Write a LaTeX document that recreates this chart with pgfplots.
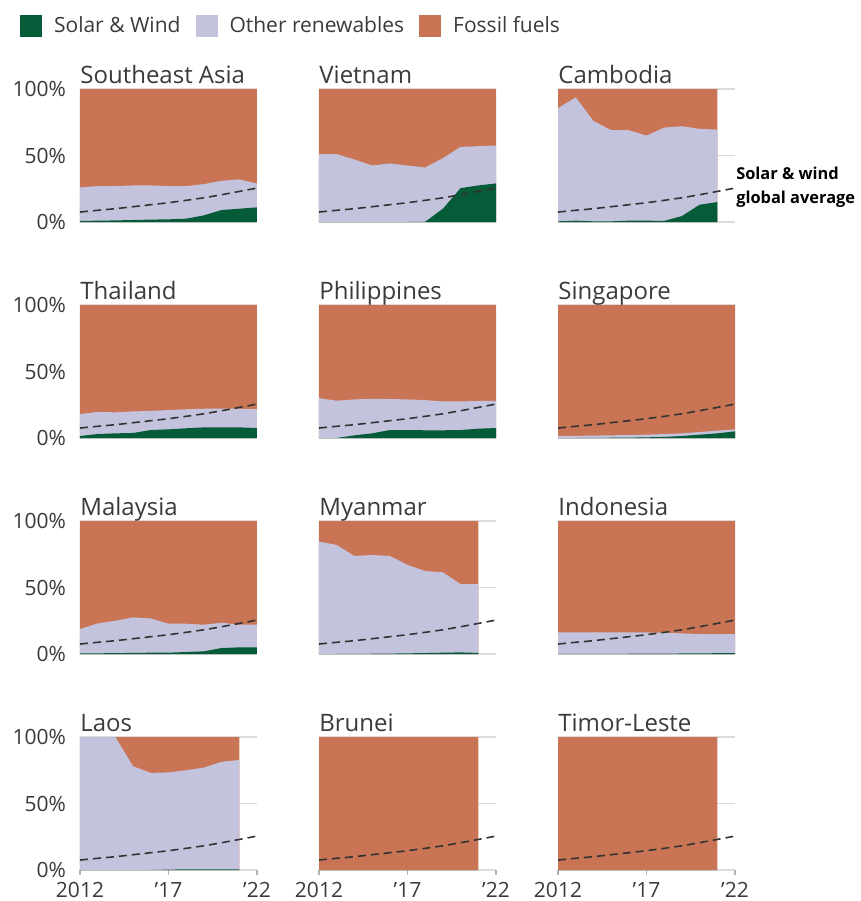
\documentclass[border=0pt]{standalone}
\usepackage{fontspec}
\setmainfont{Open Sans}
\usepackage{pgfplots}
\usepackage{pgfplotstable}
\pgfplotsset{compat=1.18}
\usepgfplotslibrary{groupplots}

\definecolor{swgreen}{HTML}{065C38}
\definecolor{renlav}{HTML}{C4C3DD}
\definecolor{fossil}{HTML}{C97455}
\definecolor{gridgrey}{HTML}{DCDCDC}
\definecolor{txt}{HTML}{3A3A3A}
\definecolor{avgline}{HTML}{333333}

% cumulative shares: sw = solar+wind, ren = sw + other renewables, ff = 100
\pgfplotstableread{
yr   sw   ren  ff
2012 0.8  26   100
2013 1.0  27   100
2014 1.2  27   100
2015 1.5  27.5 100
2016 1.8  27.5 100
2017 2.0  27   100
2018 2.5  27   100
2019 5.0  28.5 100
2020 9.0  31   100
2021 10.0 32   100
2022 11.0 29   100
}\sea
\pgfplotstableread{
yr   sw   ren  ff
2012 0    51   100
2013 0    51   100
2014 0    47   100
2015 0    42.5 100
2016 0    44   100
2017 0    42.5 100
2018 0.2  41   100
2019 10   48   100
2020 25.5 56.5 100
2021 27.5 57   100
2022 29   57.5 100
}\vietnam
\pgfplotstableread{
yr   sw   ren  ff
2012 0.5  85.6 100
2013 1.0  93.7 100
2014 0.5  76   100
2015 0.5  69   100
2016 1.0  69   100
2017 1.0  65   100
2018 0.8  71   100
2019 4.5  72   100
2020 13   70   100
2021 15   69.5 100
}\cambodia
\pgfplotstableread{
yr   sw   ren  ff
2012 1.5  18   100
2013 3.0  19.6 100
2014 3.5  19.3 100
2015 3.8  20   100
2016 6.0  20.4 100
2017 6.5  21   100
2018 7.3  21.6 100
2019 8.0  22   100
2020 8.0  22   100
2021 8.0  22   100
2022 7.5  21.6 100
}\thailand
\pgfplotstableread{
yr   sw   ren  ff
2012 0    30   100
2013 0    28   100
2014 2.0  29   100
2015 3.5  29.5 100
2016 6.0  29.3 100
2017 6.0  29   100
2018 5.8  28.5 100
2019 5.8  27.5 100
2020 6.0  27.5 100
2021 7.0  27.8 100
2022 7.5  28   100
}\philippines
\pgfplotstableread{
yr   sw   ren  ff
2012 0    1.5  100
2013 0    1.6  100
2014 0.1  1.8  100
2015 0.2  2.0  100
2016 0.3  2.2  100
2017 0.5  2.5  100
2018 0.8  3.0  100
2019 1.5  3.5  100
2020 2.5  4.5  100
2021 3.5  5.5  100
2022 5.0  6.5  100
}\singapore
\pgfplotstableread{
yr   sw   ren   ff
2012 0.5  18.75 100
2013 0.5  23    100
2014 0.7  25    100
2015 0.8  27.5  100
2016 1.0  26.75 100
2017 1.0  22.75 100
2018 1.5  22.75 100
2019 2.0  22    100
2020 4.5  23.5  100
2021 5.0  22    100
2022 5.0  22    100
}\malaysia
\pgfplotstableread{
yr   sw   ren  ff
2012 0    84.5 100
2013 0    82   100
2014 0.1  73.7 100
2015 0.2  74.4 100
2016 0.3  73.7 100
2017 0.5  67   100
2018 0.7  62.4 100
2019 1.0  61.4 100
2020 1.2  52.6 100
2021 0.8  52.6 100
}\myanmar
\pgfplotstableread{
yr   sw   ren   ff
2012 0.1  16.25 100
2013 0.1  16.25 100
2014 0.1  16.2  100
2015 0.1  16.2  100
2016 0.2  16.2  100
2017 0.2  16.2  100
2018 0.3  16    100
2019 0.4  15.5  100
2020 0.5  15    100
2021 0.6  15    100
2022 0.7  15    100
}\indonesia
\pgfplotstableread{
yr   sw   ren  ff
2012 0    100  100
2013 0    100  100
2014 0    100  100
2015 0    78   100
2016 0    73   100
2017 0.3  73.4 100
2018 0.5  75   100
2019 0.5  77   100
2020 0.5  81.4 100
2021 0.5  82.7 100
}\laos
\pgfplotstableread{
yr   sw   ren  ff
2012 0    0    100
2013 0    0    100
2014 0    0    100
2015 0    0    100
2016 0    0    100
2017 0    0    100
2018 0    0    100
2019 0    0    100
2020 0    0    100
2021 0    0    100
}\brunei
\pgfplotstableread{
yr   sw   ren  ff
2012 0    0    100
2013 0    0    100
2014 0    0    100
2015 0    0    100
2016 0    0    100
2017 0    0    100
2018 0    0    100
2019 0    0    100
2020 0    0    100
2021 0    0    100
}\timor
% solar & wind global average share
\pgfplotstableread{
yr   avg
2012 7.5
2013 8.8
2014 10.0
2015 11.5
2016 13.0
2017 14.5
2018 16.3
2019 18.2
2020 20.5
2021 23.0
2022 25.5
}\globalavg

\newcommand{\panel}[1]{%
  \addplot[fill=fossil, draw=none, forget plot] table[x=yr, y=ff] {#1} \closedcycle;
  \addplot[fill=renlav, draw=none, forget plot] table[x=yr, y=ren] {#1} \closedcycle;
  \addplot[fill=swgreen, draw=none, forget plot] table[x=yr, y=sw] {#1} \closedcycle;
  \addplot[avgline, line width=0.8pt, dash pattern=on 4pt off 2.5pt, forget plot]
    table[x=yr, y=avg] {\globalavg};
}

\pgfplotsset{
  bottomrow/.style={xtick style={draw=black!30, line width=0.6pt}},
}

\begin{document}
\begin{tikzpicture}
\begin{groupplot}[
  group style={group size=3 by 4, horizontal sep=31pt, vertical sep=41.5pt,
    group name=g, xticklabels at=edge bottom, yticklabels at=edge left},
  width=88.5pt, height=66.5pt, scale only axis,
  xmin=2012, xmax=2022, ymin=0, ymax=100,
  xtick={2012,2017,2022}, xticklabels={2012,'17,'22},
  ytick={0,50,100}, yticklabels={0\%,50\%,100\%},
  ymajorgrids, grid style={gridgrey, line width=0.8pt},
  axis line style={draw=none},
  tick align=outside, major tick length=2.5pt,
  xtick pos=bottom, ytick pos=left,
  ytick style={draw=none}, xtick style={draw=none},
  tick label style={font=\fontsize{10.5}{12}\selectfont, text=txt},
  /pgf/number format/assume math mode=true,
  yticklabel style={xshift=-1pt},
  every axis title shift=0pt,
  title style={at={(0,1)}, anchor=base west, yshift=3pt, inner sep=0pt,
    font=\fontsize{12}{14}\selectfont, text=txt},
]
\nextgroupplot[title={Southeast Asia},
  legend columns=3,
  legend style={at={(-0.341,1.474)}, anchor=west, draw=none, fill=none,
    inner sep=0pt, font=\fontsize{10.5}{12}\selectfont, text=txt,
    /tikz/every even column/.append style={column sep=5.5pt}},
  legend image code/.code={\fill[#1] (0pt,-5.5pt) rectangle (11pt,5.5pt);
    \path (15pt,0pt);},
]
\addlegendimage{fill=swgreen, draw=none}
\addlegendentry{Solar \& Wind}
\addlegendimage{fill=renlav, draw=none}
\addlegendentry{Other renewables}
\addlegendimage{fill=fossil, draw=none}
\addlegendentry{Fossil fuels}
\panel{\sea}
\nextgroupplot[title={Vietnam}]
\panel{\vietnam}
\nextgroupplot[title={Cambodia}, clip=false]
\panel{\cambodia}
\node[anchor=west, align=left, inner sep=0pt, text=black,
  font=\bfseries\fontsize{8.2}{12}\selectfont] at (axis cs:2022.05,26.5)
  {Solar \& wind\\global average};
\nextgroupplot[title={Thailand}]
\panel{\thailand}
\nextgroupplot[title={Philippines}]
\panel{\philippines}
\nextgroupplot[title={Singapore}]
\panel{\singapore}
\nextgroupplot[title={Malaysia}]
\panel{\malaysia}
\nextgroupplot[title={Myanmar}]
\panel{\myanmar}
\nextgroupplot[title={Indonesia}]
\panel{\indonesia}
\nextgroupplot[title={Laos}, bottomrow]
\panel{\laos}
\nextgroupplot[title={Brunei}, bottomrow]
\panel{\brunei}
\nextgroupplot[title={Timor-Leste}, bottomrow]
\panel{\timor}
\end{groupplot}
\pgfresetboundingbox
\path (g c1r1.south west) ++(-40pt,-339.5pt) rectangle ++(430.5pt,450.5pt);
\end{tikzpicture}
\end{document}
